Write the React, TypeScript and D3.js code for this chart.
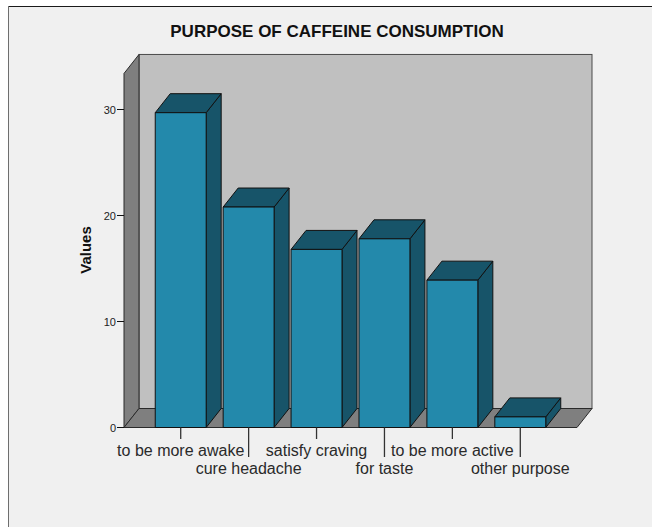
import React from "react";
import * as d3 from "d3";

// Share of respondents per purpose (percent)
const categories = [
  "to be more awake",
  "cure headache",
  "satisfy craving",
  "for taste",
  "to be more active",
  "other purpose",
];
const values = [29.7, 20.8, 16.8, 17.8, 13.9, 1.0];
const yTicks = [0, 10, 20, 30];
const yMaxExtent = 33.4;

const W = 652;
const H = 527;
const DX = 15; // depth offset, horizontal
const DY = 19; // depth offset, vertical

const FRONT = "#2389ab";
const DARK = "#175469";
const WALL_BACK = "#c0c0c0";
const WALL_SIDE = "#7f7f7f";

export default function App() {
  const x = d3
    .scaleBand<string>()
    .domain(categories)
    .range([124, 577])
    .paddingInner(0.25)
    .paddingOuter(0.46);
  const y = d3.scaleLinear().domain([0, 30]).range([427.5, 109.5]);

  const base = y(0);
  const top = y(yMaxExtent);
  const left = x.range()[0];
  const right = x.range()[1];
  const bw = x.bandwidth();

  const pts = (arr: [number, number][]) => arr.map((p) => p.join(",")).join(" ");

  return (
    <svg
      width={W}
      height={H}
      style={{ position: "absolute", left: 0, top: 0, display: "block" }}
      fontFamily="'Liberation Sans', Arial, sans-serif"
    >
      <rect x={0} y={0} width={W} height={H} fill="#ffffff" />
      <rect x={8} y={6} width={W} height={H} fill="#f0f0f0" />
      <line x1={8} y1={6.5} x2={W} y2={6.5} stroke="#1a1a1a" strokeWidth={1} />
      <line x1={8.5} y1={6} x2={8.5} y2={H} stroke="#6e6e6e" strokeWidth={1} />

      <text
        x={337}
        y={36.5}
        textAnchor="middle"
        fontSize={17}
        fontWeight="bold"
        fill="#111"
      >
        PURPOSE OF CAFFEINE CONSUMPTION
      </text>

      {/* back wall */}
      <rect
        x={left + DX}
        y={top - DY}
        width={right - left}
        height={base - top}
        fill={WALL_BACK}
        stroke="#4a4a4a"
        strokeWidth={1}
      />
      {/* side wall */}
      <polygon
        points={pts([
          [left, top],
          [left + DX, top - DY],
          [left + DX, base - DY],
          [left, base],
        ])}
        fill={WALL_SIDE}
        stroke="#2a2a2a"
        strokeWidth={1}
        strokeLinejoin="round"
      />
      {/* floor */}
      <polygon
        points={pts([
          [left, base],
          [left + DX, base - DY],
          [right + DX, base - DY],
          [right, base],
        ])}
        fill={WALL_SIDE}
        stroke="#2a2a2a"
        strokeWidth={1}
        strokeLinejoin="round"
      />

      {/* y axis ticks */}
      {yTicks.map((t) => (
        <g key={t}>
          <line x1={left - 7} x2={left} y1={y(t)} y2={y(t)} stroke="#111" />
          <text
            x={left - 8}
            y={y(t) + 4}
            textAnchor="end"
            fontSize={11}
            fill="#222"
          >
            {t}
          </text>
        </g>
      ))}

      <text
        transform={`translate(91,250) rotate(-90)`}
        textAnchor="middle"
        fontSize={15}
        fontWeight="bold"
        fill="#111"
      >
        Values
      </text>

      {/* bars */}
      {categories.map((c, i) => {
        const x0 = x(c)!;
        const x1 = x0 + bw;
        const yt = y(values[i]);
        return (
          <g key={c} stroke="#111" strokeWidth={1} strokeLinejoin="round">
            <polygon
              points={pts([
                [x1, yt],
                [x1 + DX, yt - DY],
                [x1 + DX, base - DY],
                [x1, base],
              ])}
              fill={DARK}
            />
            <polygon
              points={pts([
                [x0, yt],
                [x0 + DX, yt - DY],
                [x1 + DX, yt - DY],
                [x1, yt],
              ])}
              fill={DARK}
            />
            <rect x={x0} y={yt} width={bw} height={base - yt} fill={FRONT} />
          </g>
        );
      })}

      {/* category ticks and labels, staggered in two rows */}
      {categories.map((c, i) => {
        const cx = x(c)! + bw / 2;
        const even = i % 2 === 0;
        return (
          <g key={c}>
            <line
              x1={cx}
              x2={cx}
              y1={base}
              y2={even ? 439 : 457}
              stroke="#333"
              strokeWidth={1.3}
            />
            <text
              x={cx}
              y={even ? 456 : 474}
              textAnchor="middle"
              fontSize={16}
              fill="#2a2a2a"
            >
              {c}
            </text>
          </g>
        );
      })}
    </svg>
  );
}
